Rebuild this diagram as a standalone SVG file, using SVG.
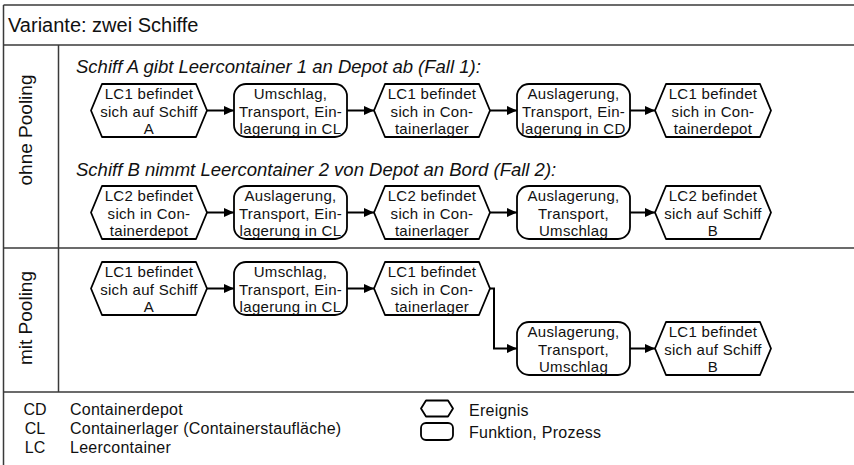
<svg xmlns="http://www.w3.org/2000/svg" width="854" height="465" viewBox="0 0 854 465">
  <style>
    .frame { fill: none; stroke: #3a3a3a; stroke-width: 1.5; }
    .node { fill: #ffffff; stroke: #000000; stroke-width: 1.8; stroke-linejoin: round; }
    .edge { fill: none; stroke: #000000; stroke-width: 2; }
    text { font-family: "Liberation Sans", Arial, sans-serif; fill: #111111; }
    .title { font-size: 20px; }
    .sub { font-size: 18.5px; font-style: italic; }
    .lane { font-size: 19px; text-anchor: middle; }
    .lbl { font-size: 15px; text-anchor: middle; letter-spacing: 0.3px; }
    .leg { font-size: 16px; letter-spacing: 0.25px; }
    .abbr { font-size: 16px; text-anchor: middle; }
  </style>
  <defs>
    <marker id="arrow" markerUnits="userSpaceOnUse" markerWidth="11" markerHeight="10" refX="10" refY="5" orient="auto">
      <path d="M0,0.5 L10,5 L0,9.5 z" fill="#000000"/>
    </marker>
  </defs>

  <!-- table frame -->
  <g id="frame">
    <line class="frame" x1="3.5" y1="5" x2="854" y2="5"/>
    <line class="frame" x1="3.5" y1="5" x2="3.5" y2="465"/>
    <line class="frame" x1="3.5" y1="45" x2="854" y2="45"/>
    <line class="frame" x1="58.5" y1="45" x2="58.5" y2="392"/>
    <line class="frame" x1="3.5" y1="248" x2="854" y2="248"/>
    <line class="frame" x1="3.5" y1="392" x2="854" y2="392"/>
    <text class="title" x="8" y="32">Variante: zwei Schiffe</text>
    <text class="lane" transform="translate(32,130) rotate(-90)">ohne Pooling</text>
    <text class="lane" transform="translate(32,318) rotate(-90)">mit Pooling</text>
    <text class="sub" x="76" y="73">Schiff A gibt Leercontainer 1 an Depot ab (Fall 1):</text>
    <text class="sub" x="76" y="176">Schiff B nimmt Leercontainer 2 von Depot an Bord (Fall 2):</text>
  </g>

  <!-- connectors -->
  <g id="connectors">
    <line class="edge" x1="207" y1="110.5" x2="234" y2="110.5" marker-end="url(#arrow)"/>
    <line class="edge" x1="347" y1="110.5" x2="374" y2="110.5" marker-end="url(#arrow)"/>
    <line class="edge" x1="490" y1="110.5" x2="517" y2="110.5" marker-end="url(#arrow)"/>
    <line class="edge" x1="630" y1="110.5" x2="655" y2="110.5" marker-end="url(#arrow)"/>

    <line class="edge" x1="207" y1="212.5" x2="234" y2="212.5" marker-end="url(#arrow)"/>
    <line class="edge" x1="347" y1="212.5" x2="374" y2="212.5" marker-end="url(#arrow)"/>
    <line class="edge" x1="490" y1="212.5" x2="517" y2="212.5" marker-end="url(#arrow)"/>
    <line class="edge" x1="630" y1="212.5" x2="655" y2="212.5" marker-end="url(#arrow)"/>

    <line class="edge" x1="207" y1="288.5" x2="234" y2="288.5" marker-end="url(#arrow)"/>
    <line class="edge" x1="347" y1="288.5" x2="374" y2="288.5" marker-end="url(#arrow)"/>
    <polyline class="edge" points="490,288.5 494,288.5 494,348.5 517,348.5" marker-end="url(#arrow)"/>
    <line class="edge" x1="630" y1="348.5" x2="655" y2="348.5" marker-end="url(#arrow)"/>
  </g>

  <!-- Fall 1 -->
  <g id="f1-e1">
    <polygon class="node" points="91,110.5 102,84 196,84 207,110.5 196,137 102,137"/>
    <text class="lbl" x="149" y="99">LC1 befindet</text>
    <text class="lbl" x="149" y="116.5">sich auf Schiff</text>
    <text class="lbl" x="149" y="134">A</text>
  </g>
  <g id="f1-p1">
    <rect class="node" x="234" y="84" width="113" height="53" rx="12"/>
    <text class="lbl" x="290.5" y="99">Umschlag,</text>
    <text class="lbl" x="290.5" y="116.5">Transport, Ein-</text>
    <text class="lbl" x="290.5" y="134">lagerung in CL</text>
  </g>
  <g id="f1-e2">
    <polygon class="node" points="374,110.5 385,84 479,84 490,110.5 479,137 385,137"/>
    <text class="lbl" x="432" y="99">LC1 befindet</text>
    <text class="lbl" x="432" y="116.5">sich in Con-</text>
    <text class="lbl" x="432" y="134">tainerlager</text>
  </g>
  <g id="f1-p2">
    <rect class="node" x="517" y="84" width="113" height="53" rx="12"/>
    <text class="lbl" x="573.5" y="99">Auslagerung,</text>
    <text class="lbl" x="573.5" y="116.5">Transport, Ein-</text>
    <text class="lbl" x="573.5" y="134">lagerung in CD</text>
  </g>
  <g id="f1-e3">
    <polygon class="node" points="655,110.5 666,84 760,84 771,110.5 760,137 666,137"/>
    <text class="lbl" x="713" y="99">LC1 befindet</text>
    <text class="lbl" x="713" y="116.5">sich in Con-</text>
    <text class="lbl" x="713" y="134">tainerdepot</text>
  </g>

  <!-- Fall 2 -->
  <g id="f2-e1">
    <polygon class="node" points="91,212.5 102,186 196,186 207,212.5 196,239 102,239"/>
    <text class="lbl" x="149" y="201">LC2 befindet</text>
    <text class="lbl" x="149" y="218.5">sich in Con-</text>
    <text class="lbl" x="149" y="236">tainerdepot</text>
  </g>
  <g id="f2-p1">
    <rect class="node" x="234" y="186" width="113" height="53" rx="12"/>
    <text class="lbl" x="290.5" y="201">Auslagerung,</text>
    <text class="lbl" x="290.5" y="218.5">Transport, Ein-</text>
    <text class="lbl" x="290.5" y="236">lagerung in CL</text>
  </g>
  <g id="f2-e2">
    <polygon class="node" points="374,212.5 385,186 479,186 490,212.5 479,239 385,239"/>
    <text class="lbl" x="432" y="201">LC2 befindet</text>
    <text class="lbl" x="432" y="218.5">sich in Con-</text>
    <text class="lbl" x="432" y="236">tainerlager</text>
  </g>
  <g id="f2-p2">
    <rect class="node" x="517" y="186" width="113" height="53" rx="12"/>
    <text class="lbl" x="573.5" y="201">Auslagerung,</text>
    <text class="lbl" x="573.5" y="218.5">Transport,</text>
    <text class="lbl" x="573.5" y="236">Umschlag</text>
  </g>
  <g id="f2-e3">
    <polygon class="node" points="655,212.5 666,186 760,186 771,212.5 760,239 666,239"/>
    <text class="lbl" x="713" y="201">LC2 befindet</text>
    <text class="lbl" x="713" y="218.5">sich auf Schiff</text>
    <text class="lbl" x="713" y="236">B</text>
  </g>

  <!-- mit Pooling -->
  <g id="mp-e1">
    <polygon class="node" points="91,288.5 102,262 196,262 207,288.5 196,315 102,315"/>
    <text class="lbl" x="149" y="277">LC1 befindet</text>
    <text class="lbl" x="149" y="294.5">sich auf Schiff</text>
    <text class="lbl" x="149" y="312">A</text>
  </g>
  <g id="mp-p1">
    <rect class="node" x="234" y="262" width="113" height="53" rx="12"/>
    <text class="lbl" x="290.5" y="277">Umschlag,</text>
    <text class="lbl" x="290.5" y="294.5">Transport, Ein-</text>
    <text class="lbl" x="290.5" y="312">lagerung in CL</text>
  </g>
  <g id="mp-e2">
    <polygon class="node" points="374,288.5 385,262 479,262 490,288.5 479,315 385,315"/>
    <text class="lbl" x="432" y="277">LC1 befindet</text>
    <text class="lbl" x="432" y="294.5">sich in Con-</text>
    <text class="lbl" x="432" y="312">tainerlager</text>
  </g>
  <g id="mp-p2">
    <rect class="node" x="517" y="322" width="113" height="53" rx="12"/>
    <text class="lbl" x="573.5" y="337">Auslagerung,</text>
    <text class="lbl" x="573.5" y="354.5">Transport,</text>
    <text class="lbl" x="573.5" y="372">Umschlag</text>
  </g>
  <g id="mp-e3">
    <polygon class="node" points="655,348.5 666,322 760,322 771,348.5 760,375 666,375"/>
    <text class="lbl" x="713" y="337">LC1 befindet</text>
    <text class="lbl" x="713" y="354.5">sich auf Schiff</text>
    <text class="lbl" x="713" y="372">B</text>
  </g>

  <!-- legend -->
  <g id="legend">
    <text class="abbr" x="35" y="415">CD</text>
    <text class="abbr" x="35" y="434">CL</text>
    <text class="abbr" x="35" y="453">LC</text>
    <text class="leg" x="70" y="415">Containerdepot</text>
    <text class="leg" x="70" y="434">Containerlager (Containerstaufläche)</text>
    <text class="leg" x="70" y="453">Leercontainer</text>
    <polygon class="node" points="421,408.5 426,400.5 448,400.5 453,408.5 448,416.5 426,416.5"/>
    <rect class="node" x="421" y="423" width="32" height="17" rx="5"/>
    <text class="leg" x="469" y="415.5">Ereignis</text>
    <text class="leg" x="469" y="437.5">Funktion, Prozess</text>
  </g>
</svg>
